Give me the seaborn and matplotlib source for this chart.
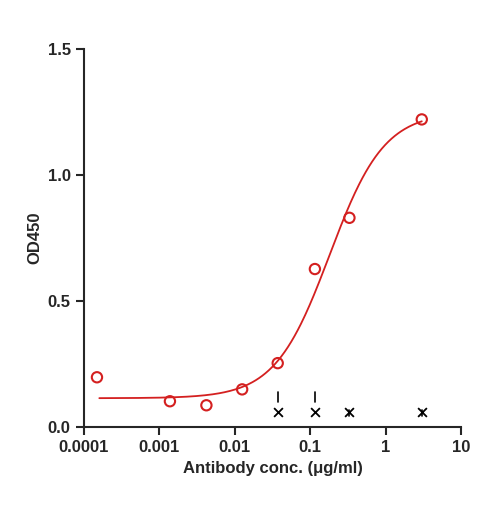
import numpy as np
import pandas as pd
import matplotlib
matplotlib.use("Agg")
import matplotlib.pyplot as plt
import seaborn as sns

sns.set_style("ticks")
plt.rcParams['font.family'] = ['Liberation Sans', 'DejaVu Sans']

# measured points
conc = [0.000149, 0.00138, 0.0042, 0.0125, 0.037, 0.115, 0.33, 3.0]
od = [0.198, 0.103, 0.087, 0.150, 0.254, 0.627, 0.830, 1.220]
# control (x markers)
ctrl_conc = [0.037, 0.115, 0.33, 3.0]
ctrl_od = [0.06, 0.06, 0.06, 0.06]
ctrl_err = [0.14, 0.14, 0.07, 0.07]  # top of error bar tick
# 4PL fit parameters
bottom, top, ec50, hill = 0.115, 1.25, 0.18, 1.2

fig = plt.figure(figsize=(4.85, 5.08), dpi=100)
ax = fig.add_axes([0.173, 0.159, 0.778, 0.745])

xs = np.logspace(np.log10(0.00016), np.log10(3.0), 300)
ys = bottom + (top - bottom) / (1 + (ec50 / xs) ** hill)
fit = pd.DataFrame({"x": xs, "y": ys})
sns.lineplot(data=fit, x="x", y="y", color="#d42020", lw=1.3, ax=ax)

df = pd.DataFrame({"x": conc, "y": od})
sns.scatterplot(data=df, x="x", y="y", marker="o", s=55, facecolor="none",
                edgecolor="#d42020", linewidth=1.5, ax=ax, zorder=5)

cdf = pd.DataFrame({"x": ctrl_conc, "y": ctrl_od})
sns.scatterplot(data=cdf, x="x", y="y", marker="x", s=40, color="black",
                linewidth=1.3, ax=ax, zorder=5)
for cx, top_e in zip(ctrl_conc, ctrl_err):
    if top_e > 0.1:
        ax.plot([cx, cx], [top_e - 0.04, top_e], color="black", lw=1.2)
    else:
        ax.plot([cx, cx], [0.045, top_e], color="black", lw=1.2)

ax.set_xscale("log")
ax.set_xlim(1e-4, 10)
ax.set_ylim(0, 1.5)
ax.set_xticks([1e-4, 1e-3, 1e-2, 1e-1, 1, 10])
ax.set_xticklabels(["0.0001", "0.001", "0.01", "0.1", "1", "10"])
ax.set_yticks([0, 0.5, 1.0, 1.5])
ax.set_yticklabels(["0.0", "0.5", "1.0", "1.5"])
ax.minorticks_off()
ax.tick_params(axis="both", width=1.5, length=6, labelsize=12)
for lbl in ax.get_xticklabels() + ax.get_yticklabels():
    lbl.set_fontweight("bold")
for s in ["left", "bottom"]:
    ax.spines[s].set_linewidth(1.5)
sns.despine(ax=ax)
ax.set_xlabel("Antibody conc. (μg/ml)", fontsize=12, fontweight="bold")
ax.set_ylabel("OD450", fontsize=12, fontweight="bold")

fig.savefig("out.png", dpi=100)
